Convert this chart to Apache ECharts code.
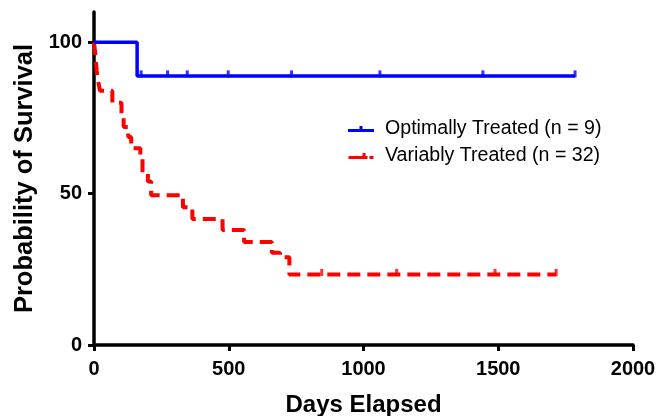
<!DOCTYPE html>
<html>
<head>
<meta charset="utf-8">
<script src="https://cdn.jsdelivr.net/npm/echarts@6/dist/echarts.min.js"></script>
<style>
  html, body { margin: 0; padding: 0; background: #fff; }
  #chart { width: 659px; height: 416px; }
</style>
</head>
<body>
<div id="chart"></div>
<script>
// Kaplan-Meier step points: [day, survival %]
const optimalSteps = [[0, 100], [160, 88.9], [1785, 88.9]];
const optimalCensored = [[175, 88.9], [273, 88.9], [346, 88.9], [498, 88.9], [733, 88.9], [1061, 88.9], [1443, 88.9], [1785, 88.9]];

const variableSteps = [
  [0, 100], [4, 96.9], [7, 93.8], [10, 90.6], [15, 87.5], [22, 84],
  [68, 80], [102, 75.5], [110, 72], [127, 68.7], [138, 65],
  [172, 62], [180, 57], [200, 54], [212, 49.5],
  [330, 45.5], [365, 41.6], [477, 38], [557, 34],
  [660, 30.5], [690, 29], [725, 23.3], [1715, 23.3]
];
const variableCensored = [[845, 23.3], [1123, 23.3], [1488, 23.3], [1715, 23.3]];

const xTicks = [0, 500, 1000, 1500, 2000];
const yTicks = [0, 50, 100];

const chart = echarts.init(document.getElementById('chart'));

const axisFont = { fontFamily: 'Liberation Sans, Arial, sans-serif', fontWeight: 'bold', color: '#000' };

// legend icons: line with censor tick
const blueIcon = 'path://M0,3 L26,3 L26,6 L0,6 Z M11.5,0 L14.5,0 L14.5,3 L11.5,3 Z';
const redIcon = 'path://M0,3 L19,3 L19,6 L0,6 Z M14,0 L17,0 L17,3 L14,3 Z M21,3 L25,3 L25,6 L21,6 Z';

const option = {
  animation: false,
  grid: { left: 94, right: 26, top: 12, bottom: 71, outerBoundsMode: 'none' },
  legend: {
    data: [
      { name: 'Optimally Treated (n = 9)', icon: blueIcon },
      { name: 'Variably Treated (n = 32)', icon: redIcon }
    ],
    orient: 'vertical',
    left: 348,
    top: 119,
    padding: 0,
    itemWidth: 26,
    itemHeight: 6,
    itemGap: 7,
    textStyle: {
      fontFamily: 'Liberation Sans, Arial, sans-serif',
      fontSize: 19.6,
      lineHeight: 20,
      color: '#000',
      padding: [0, 0, 0, 6]
    }
  },
  xAxis: {
    type: 'value',
    min: 0,
    max: 2000,
    interval: 500,
    name: 'Days Elapsed',
    nameLocation: 'middle',
    nameGap: 48,
    nameTextStyle: Object.assign({ fontSize: 24 }, axisFont),
    splitLine: { show: false },
    axisLine: { show: true, onZero: false, lineStyle: { color: '#000', width: 3.5 } },
    axisTick: { show: true, length: 6, lineStyle: { color: '#000', width: 3 }, customValues: xTicks },
    axisLabel: Object.assign({ fontSize: 20, margin: 14, customValues: xTicks, formatter: v => String(v) }, axisFont)
  },
  yAxis: {
    type: 'value',
    min: 0,
    max: 110,
    interval: 50,
    name: 'Probability of Survival',
    nameLocation: 'middle',
    nameGap: 54,
    nameTextStyle: Object.assign({ fontSize: 25.5 }, axisFont),
    splitLine: { show: false },
    axisLine: { show: true, lineStyle: { color: '#000', width: 3.5 } },
    axisTick: { show: true, length: 6, lineStyle: { color: '#000', width: 3 }, customValues: yTicks },
    axisLabel: Object.assign({ fontSize: 20, margin: 12, customValues: yTicks }, axisFont)
  },
  series: [
    {
      name: 'Optimally Treated (n = 9)',
      type: 'line',
      step: 'end',
      data: optimalSteps,
      symbol: 'none',
      z: 3,
      lineStyle: { color: '#0000ff', width: 3.5 },
      itemStyle: { color: '#0000ff' }
    },
    {
      name: 'Variably Treated (n = 32)',
      type: 'line',
      step: 'end',
      data: variableSteps,
      symbol: 'none',
      z: 2,
      lineStyle: { color: '#ff0000', width: 4, type: [13, 7] },
      itemStyle: { color: '#ff0000' }
    },
    {
      name: 'optimalCensor',
      type: 'scatter',
      data: optimalCensored,
      symbol: 'rect',
      symbolSize: [3, 7],
      symbolOffset: [0, -2],
      itemStyle: { color: '#0000ff' },
      z: 4
    },
    {
      name: 'variableCensor',
      type: 'scatter',
      data: variableCensored,
      symbol: 'rect',
      symbolSize: [3, 7],
      symbolOffset: [0, -2],
      itemStyle: { color: '#ff0000' },
      z: 4
    }
  ]
};

chart.setOption(option);
</script>
</body>
</html>
